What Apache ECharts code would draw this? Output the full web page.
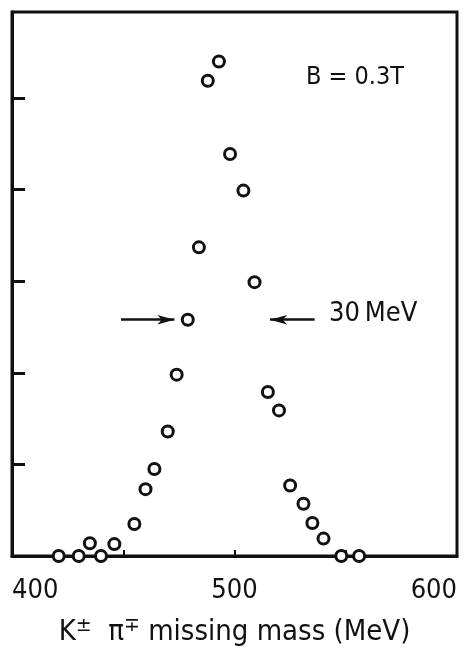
<!DOCTYPE html>
<html>
<head>
<meta charset="utf-8">
<style>
  html, body { margin: 0; padding: 0; background: #fff; }
  #chart { width: 468px; height: 652px; }
</style>
<script src="https://cdn.jsdelivr.net/npm/echarts@6/dist/echarts.min.js"></script>
</head>
<body>
<div id="chart"></div>
<script>
// missing mass (MeV) and counts (arbitrary units, one unit per left tick)
var mass = [
  421, 430, 440, 435, 446, 455, 460, 464, 470, 474, 479, 484,
  488, 493, 498, 504, 509, 515, 520, 525, 531, 535, 540, 548, 556
];
var counts = [
  0, 0, 0, 0.14, 0.13, 0.35, 0.73, 0.95, 1.36, 1.98, 2.58, 3.37,
  5.19, 5.40, 4.39, 3.99, 2.99, 1.79, 1.59, 0.77, 0.57, 0.36, 0.19, 0, 0
];
var xLabels = [400, 500, 600];
var xTicks = [450, 500, 550];
var yTicks = [1, 2, 3, 4, 5];
// FWHM arrows: [from, to] in MeV at the half-height level
var halfHeight = 2.58;
var arrowLeft = [449, 473];
var arrowRight = [536, 516];

var points = mass.map(function (m, i) {
  return [m, counts[i]];
});

var chart = echarts.init(document.getElementById("chart"));

var option = {
  backgroundColor: "#fff",
  animation: false,
  grid: {
    left: 12,
    right: 11,
    top: 12,
    bottom: 96,
    show: true,
    borderColor: "#111",
    borderWidth: 3,
  },
  xAxis: {
    type: "value",
    min: 400,
    max: 600,
    name: "{k|K}{s|±}{k|  π}{s|∓}{k| missing mass (MeV)}",
    nameLocation: "middle",
    nameGap: 61,
    nameTextStyle: {
      rich: {
        k: { fontSize: 29, color: "#111", fontFamily: "DejaVu Sans Condensed" },
        s: { fontSize: 19, color: "#111", fontFamily: "DejaVu Sans", verticalAlign: "top", padding: [0, 0, 12, 0] },
      },
    },
    axisLine: { show: true, lineStyle: { color: "#111", width: 3 } },
    axisTick: {
      show: true,
      inside: true,
      length: 6,
      customValues: xTicks,
      lineStyle: { color: "#111", width: 2 },
    },
    axisLabel: {
      customValues: xLabels,
      margin: 21,
      fontSize: 27,
      color: "#111",
      fontFamily: "DejaVu Sans Condensed",
      alignMinLabel: "left",
      alignMaxLabel: "right",
    },
    splitLine: { show: false },
  },
  yAxis: {
    type: "value",
    min: 0,
    max: 5.94,
    axisLine: { show: true, lineStyle: { color: "#111", width: 3 } },
    axisTick: {
      show: true,
      inside: true,
      length: 13,
      customValues: yTicks,
      lineStyle: { color: "#111", width: 3 },
    },
    axisLabel: { show: false },
    splitLine: { show: false },
  },
  graphic: [
    {
      type: "text",
      left: 306,
      top: 65,
      style: {
        text: "B = 0.3T",
        fontSize: 25,
        fontFamily: "DejaVu Sans Condensed",
        fill: "#111",
      },
    },
    {
      type: "text",
      left: 329,
      top: 300,
      style: {
        text: "30\u2009MeV",
        fontSize: 27,
        fontFamily: "DejaVu Sans Condensed",
        fill: "#111",
      },
    },
  ],
  series: [
    {
      type: "scatter",
      data: points,
      clip: false,
      symbol: "circle",
      symbolSize: 11,
      itemStyle: { color: "#fff", borderColor: "#111", borderWidth: 3, opacity: 1 },
      z: 5,
      markLine: {
        silent: true,
        symbol: ["none", "arrow"],
        symbolSize: [7, 17],
        label: { show: false },
        lineStyle: { color: "#111", width: 2.5, type: "solid" },
        data: [
          [{ coord: [arrowLeft[0], halfHeight] }, { coord: [arrowLeft[1], halfHeight] }],
          [{ coord: [arrowRight[0], halfHeight] }, { coord: [arrowRight[1], halfHeight] }],
        ],
      },
    },
  ],
};

chart.setOption(option);
</script>
</body>
</html>
